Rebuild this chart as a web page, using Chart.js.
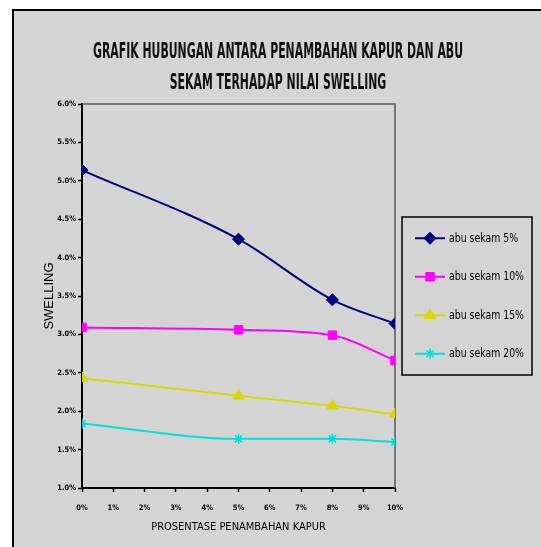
<!DOCTYPE html>
<html>
<head>
<meta charset="utf-8">
<script src="https://cdn.jsdelivr.net/npm/chart.js@4.4.1/dist/chart.umd.min.js"></script>
<style>
  html, body { margin: 0; padding: 0; background: #ffffff; }
  #c { display: block; }
</style>
</head>
<body>
<canvas id="c" width="541" height="547"></canvas>
<script>
// Swelling (%) versus lime content (%) for four rice-husk-ash contents
const percentKapur = [0, 5, 8, 10];
const seriesNames = ['abu sekam 5%', 'abu sekam 10%', 'abu sekam 15%', 'abu sekam 20%'];
const abuSekam5  = [5.14, 4.24, 3.45, 3.14];
const abuSekam10 = [3.09, 3.06, 2.99, 2.66];
const abuSekam15 = [2.43, 2.20, 2.07, 1.96];
const abuSekam20 = [1.84, 1.64, 1.64, 1.60];
const xTicks = [0, 1, 2, 3, 4, 5, 6, 7, 8, 9, 10];
const titleLines = ['GRAFIK HUBUNGAN ANTARA PENAMBAHAN KAPUR DAN ABU', 'SEKAM TERHADAP NILAI SWELLING'];
const xTitle = 'PROSENTASE PENAMBAHAN KAPUR';
const yTitle = 'SWELLING';

const NARROW = "'Liberation Sans Narrow', 'DejaVu Sans', sans-serif";
const GRAY = '#d4d4d4';

const seriesValues = [abuSekam5, abuSekam10, abuSekam15, abuSekam20];
const seriesColors = ['#000080', '#ff00ff', '#d8d800', '#00dede'];
const seriesMarkers = ['rectRot', 'rect', 'triangle', 'star'];
const markerRadius = [6, 6, 6.5, 5];

const datasets = seriesNames.map((name, i) => ({
  label: name,
  data: percentKapur.map((x, j) => ({ x: x, y: seriesValues[i][j] })),
  borderColor: seriesColors[i],
  backgroundColor: seriesColors[i],
  pointBackgroundColor: seriesColors[i],
  pointBorderColor: seriesColors[i],
  pointBorderWidth: i === 3 ? 1.5 : 1,
  pointStyle: seriesMarkers[i],
  pointRadius: markerRadius[i],
  borderWidth: 2,
  cubicInterpolationMode: 'monotone',
  fill: false
}));

// Draw text squeezed horizontally so it spans a given width
function fillSqueezed(ctx, text, x, y, sx) {
  ctx.save();
  ctx.translate(x, y);
  ctx.scale(sx, 1);
  ctx.fillText(text, 0, 0);
  ctx.restore();
}

// Page frame: white margin, black edge, gray sheet
const framePlugin = {
  id: 'frame',
  beforeDraw(chart) {
    const ctx = chart.ctx;
    ctx.save();
    ctx.fillStyle = '#ffffff';
    ctx.fillRect(0, 0, chart.width, chart.height);
    ctx.fillStyle = GRAY;
    ctx.fillRect(12, 9, chart.width - 12, chart.height - 9);
    ctx.fillStyle = '#000000';
    ctx.fillRect(12, 9, 2, chart.height - 9);
    ctx.fillRect(12, 9, chart.width - 12, 2);
    ctx.restore();
  }
};

// Plot-area outline on the top and right sides
const plotBorderPlugin = {
  id: 'plotBorder',
  beforeDatasetsDraw(chart) {
    const { ctx, chartArea: a } = chart;
    ctx.save();
    ctx.strokeStyle = '#5a5a5a';
    ctx.lineWidth = 1.5;
    ctx.beginPath();
    ctx.moveTo(a.left, a.top);
    ctx.lineTo(a.right, a.top);
    ctx.lineTo(a.right, a.bottom);
    ctx.stroke();
    ctx.restore();
  }
};

// Two-line condensed heading
const headingPlugin = {
  id: 'heading',
  afterDraw(chart) {
    const ctx = chart.ctx;
    ctx.save();
    ctx.fillStyle = '#111111';
    ctx.font = 'bold 21px ' + NARROW;
    ctx.textAlign = 'center';
    ctx.textBaseline = 'alphabetic';
    const sx = 370 / ctx.measureText(titleLines[0]).width;
    const baselines = [58, 89];
    titleLines.forEach((line, i) => fillSqueezed(ctx, line, 278, baselines[i], sx));
    ctx.restore();
  }
};

// Boxed legend with line-and-marker samples
const boxLegendPlugin = {
  id: 'boxLegend',
  afterDraw(chart) {
    const { ctx, chartArea: a } = chart;
    const x0 = a.right + 7, x1 = x0 + 130;
    const cy = (a.top + a.bottom) / 2;
    const rowGap = 38.5;
    const n = chart.data.datasets.length;
    const y0 = cy - 79, y1 = cy + 79;
    ctx.save();
    ctx.strokeStyle = '#000000';
    ctx.lineWidth = 1.5;
    ctx.strokeRect(x0, y0, x1 - x0, y1 - y0);
    ctx.font = '13px ' + NARROW;
    const longest = Math.max(...chart.data.datasets.map(d => ctx.measureText(d.label).width));
    const sx = 75 / longest;
    chart.data.datasets.forEach((ds, i) => {
      const y = cy + (i - (n - 1) / 2) * rowGap;
      ctx.strokeStyle = ds.borderColor;
      ctx.lineWidth = 2;
      ctx.beginPath();
      ctx.moveTo(x0 + 13, y);
      ctx.lineTo(x0 + 43, y);
      ctx.stroke();
      ctx.fillStyle = ds.pointBackgroundColor;
      ctx.strokeStyle = ds.pointBorderColor;
      ctx.lineWidth = ds.pointBorderWidth;
      Chart.helpers.drawPoint(ctx, {
        pointStyle: ds.pointStyle,
        radius: ds.pointRadius,
        rotation: 0,
        borderWidth: ds.pointBorderWidth
      }, x0 + 28, y);
      ctx.fillStyle = '#000000';
      ctx.font = '13px ' + NARROW;
      ctx.textAlign = 'left';
      ctx.textBaseline = 'middle';
      fillSqueezed(ctx, ds.label, x0 + 47, y, sx);
    });
    ctx.restore();
  }
};

new Chart(document.getElementById('c'), {
  type: 'line',
  data: { datasets: datasets },
  plugins: [framePlugin, plotBorderPlugin, headingPlugin, boxLegendPlugin],
  options: {
    responsive: false,
    animation: false,
    devicePixelRatio: 1,
    layout: { padding: { left: 42, right: 146, top: 104, bottom: 0 } },
    plugins: {
      legend: { display: false },
      title: { display: false },
      tooltip: { enabled: false }
    },
    scales: {
      x: {
        type: 'linear',
        min: 0,
        max: 10,
        afterFit(s) { s.height = 59; },
        afterBuildTicks(s) { s.ticks = xTicks.map(v => ({ value: v })); },
        ticks: {
          callback: v => v + '%',
          color: '#000000',
          font: { family: NARROW, size: 7.5, weight: 'bold condensed' },
          padding: 12,
          maxRotation: 0,
          autoSkip: false
        },
        grid: { drawOnChartArea: false, drawTicks: true, tickLength: 4, color: '#000000', tickWidth: 1.5 },
        border: { display: true, color: '#000000', width: 2 },
        title: {
          display: true,
          text: xTitle,
          color: '#000000',
          font: { family: NARROW, size: 11, weight: 'condensed' },
          padding: { top: 0, bottom: 13 }
        }
      },
      y: {
        min: 1,
        max: 6,
        afterFit(s) { s.width = 40; },
        ticks: {
          stepSize: 0.5,
          callback: v => v.toFixed(1) + '%',
          color: '#000000',
          font: { family: NARROW, size: 7.5, weight: 'bold condensed' },
          padding: 2
        },
        grid: { drawOnChartArea: false, drawTicks: true, tickLength: 4, color: '#000000', tickWidth: 1.5 },
        border: { display: true, color: '#000000', width: 2 },
        title: {
          display: true,
          text: yTitle,
          color: '#000000',
          font: { family: "'Liberation Sans', Arial, sans-serif", size: 13 },
          padding: { top: 0, bottom: 0 }
        }
      }
    }
  }
});
</script>
</body>
</html>
